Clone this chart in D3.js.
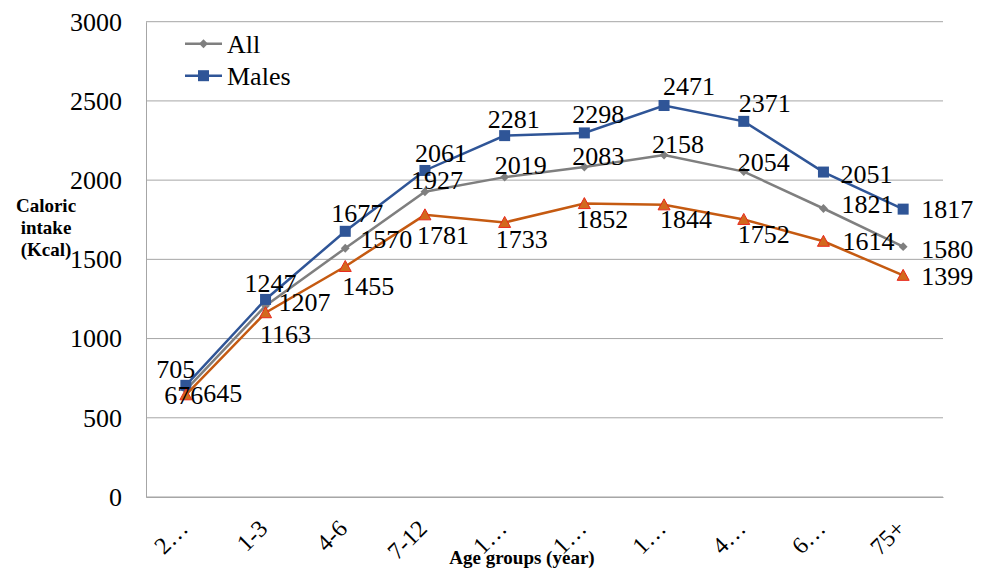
<!DOCTYPE html>
<html>
<head>
<meta charset="utf-8">
<script src="https://cdn.jsdelivr.net/npm/d3@7"></script>
<style>
  body { margin: 0; background: #fff; }
  svg text { font-family: "Liberation Serif", "Times New Roman", serif; }
</style>
</head>
<body>
<div id="chart-area"></div>
<script>
// age groups as printed on the axis (Excel truncated the long ones)
const ageLabels = ["2…", "1-3", "4-6", "7-12", "1…", "1…", "1…", "4…", "6…", "75+"]
const allValues = [676, 1207, 1570, 1927, 2019, 2083, 2158, 2054, 1821, 1580]
const maleValues = [705, 1247, 1677, 2061, 2281, 2298, 2471, 2371, 2051, 1817]
const femaleValues = [645, 1163, 1455, 1781, 1733, 1852, 1844, 1752, 1614, 1399]
const yTicks = [0, 500, 1000, 1500, 2000, 2500, 3000]

// label nudges [dx, dy] from each point (label centre / baseline), as placed in the original
const allNudge = [[-2, 14], [39, 5], [41, 0], [12, -3], [16, -3], [14, -2], [14, -2], [20, -1], [44, 5], [44, 11]]
const maleNudge = [[-10, -7], [5, -7], [12, -9], [16, -8], [9, -8], [14, -10], [25, -10], [21, -9], [43, 11], [44, 9]]
const femaleNudge = [[37, 7], [20, 30], [23, 29], [18, 29], [17, 26], [18, 24], [22, 23], [20, 24], [45, 9], [44, 10]]

const FONT = "'Liberation Serif', 'Times New Roman', serif"
const MARGIN = { LEFT: 146, RIGHT: 44, TOP: 21.7, BOTTOM: 76 }
const WIDTH = 987 - MARGIN.LEFT - MARGIN.RIGHT
const HEIGHT = 573 - MARGIN.TOP - MARGIN.BOTTOM

const svg = d3.select("#chart-area").append("svg")
	.attr("width", 987)
	.attr("height", 573)
	.attr("font-family", FONT)

const g = svg.append("g")
	.attr("transform", `translate(${MARGIN.LEFT}, ${MARGIN.TOP})`)

// scales
const x = d3.scalePoint().domain(d3.range(ageLabels.length)).range([0, WIDTH]).padding(0.5)
const y = d3.scaleLinear().domain([0, 3000]).range([HEIGHT, 0])

// gridlines
g.append("g")
	.selectAll("line")
	.data(yTicks)
	.join("line")
	.attr("x1", 0)
	.attr("x2", WIDTH)
	.attr("y1", d => y(d))
	.attr("y2", d => y(d))
	.attr("stroke", "#a6a6a6")
	.attr("stroke-width", 1)

// y axis
const yAxis = g.append("g")
	.call(d3.axisLeft(y).tickValues(yTicks).tickFormat(d3.format("d")).tickSize(0).tickPadding(24))
yAxis.attr("font-family", FONT)
yAxis.select(".domain").attr("stroke", "#a6a6a6")
yAxis.selectAll("text")
	.attr("font-size", "26px")
	.attr("fill", "#000")

// x axis
const xAxis = g.append("g")
	.attr("transform", `translate(0, ${HEIGHT})`)
	.call(d3.axisBottom(x).tickSize(0).tickFormat(i => ageLabels[i]))
xAxis.attr("font-family", FONT)
xAxis.select(".domain").attr("stroke", "#a6a6a6")
xAxis.selectAll("text")
	.attr("font-size", "24px")
	.attr("fill", "#000")
	.attr("text-anchor", "end")
	.attr("dy", 0)
	.attr("y", 0)
	.attr("transform", "translate(3, 33) rotate(-45)")

// axis titles
svg.append("text")
	.attr("x", 522)
	.attr("y", 564)
	.attr("text-anchor", "middle")
	.attr("font-size", "19px")
	.attr("font-weight", "bold")
	.text("Age groups (year)")

const yTitle = svg.append("text")
	.attr("text-anchor", "middle")
	.attr("font-size", "19px")
	.attr("font-weight", "bold")
;["Caloric", "intake", "(Kcal)"].forEach((t, i) => {
	yTitle.append("tspan").attr("x", 46).attr("y", 212 + i * 22).text(t)
})

const series = [
	{ name: "All", values: allValues, nudge: allNudge, color: "#7f7f7f", marker: "diamond" },
	{ name: "Males", values: maleValues, nudge: maleNudge, color: "#2f5597", marker: "square" },
	{ name: "Females", values: femaleValues, nudge: femaleNudge, color: "#c55a11", marker: "triangle" }
]

const line = d3.line()
	.x((d, i) => x(i))
	.y(d => y(d))

function drawMarker(sel, type, color) {
	if (type === "diamond") {
		sel.append("path")
			.attr("d", d3.symbol(d3.symbolDiamond2, 50)())
			.attr("fill", color)
	} else if (type === "square") {
		sel.append("rect")
			.attr("x", -5.5).attr("y", -5.5)
			.attr("width", 11).attr("height", 11)
			.attr("fill", color)
	} else {
		sel.append("path")
			.attr("d", "M0,-6L6,5L-6,5Z")
			.attr("fill", "#d2691e")
			.attr("stroke", "#e8281c")
			.attr("stroke-width", 1)
	}
}

series.forEach(s => {
	g.append("path")
		.attr("fill", "none")
		.attr("stroke", s.color)
		.attr("stroke-width", 2.5)
		.attr("d", line(s.values))

	s.values.forEach((v, i) => {
		const m = g.append("g").attr("transform", `translate(${x(i)}, ${y(v)})`)
		drawMarker(m, s.marker, s.color)
	})
})

// data labels
series.forEach(s => {
	g.append("g")
		.selectAll("text")
		.data(s.values)
		.join("text")
		.attr("x", (d, i) => x(i) + s.nudge[i][0])
		.attr("y", (d, i) => y(d) + s.nudge[i][1])
		.attr("text-anchor", "middle")
		.attr("font-size", "26px")
		.text(d => d)
})

// legend (only first two series shown)
const legend = g.append("g").attr("transform", "translate(39, 22)")
series.slice(0, 2).forEach((s, i) => {
	const row = legend.append("g").attr("transform", `translate(0, ${i * 32})`)
	row.append("line")
		.attr("x1", 0).attr("x2", 37)
		.attr("stroke", s.color)
		.attr("stroke-width", 2.5)
	const m = row.append("g").attr("transform", "translate(18.5, 0)")
	drawMarker(m, s.marker, s.color)
	row.append("text")
		.attr("x", 42)
		.attr("y", 9)
		.attr("font-size", "26px")
		.text(s.name)
})
</script>
</body>
</html>
